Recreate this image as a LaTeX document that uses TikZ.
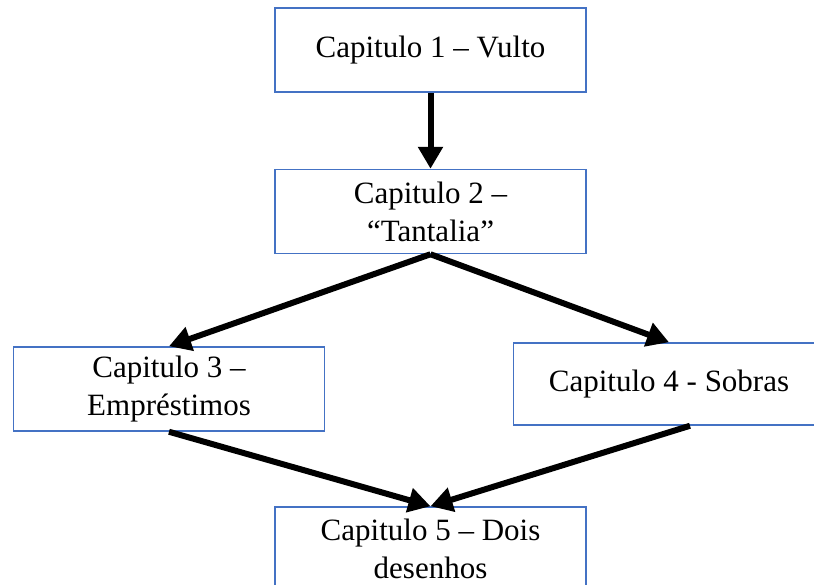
\documentclass[tikz,border=0pt]{standalone}
\usepackage{fontspec}
\setmainfont{Liberation Serif}
\usetikzlibrary{arrows.meta,positioning}
\definecolor{boxblue}{RGB}{68,114,196}
\tikzset{
    %Define standard arrow tip
    >={Triangle[width=24pt,length=22pt]},
    % Define arrow style
    pil/.style={
           ->,
           line width=6pt}
}

\begin{document}
\begin{tikzpicture}[x=1pt, y=-1pt, node distance=0pt]
	\tikzstyle{chapter} = [rectangle, draw=boxblue, line width=1.5pt, minimum width=311pt, minimum height=84pt, inner sep=0pt, align=center, font=\fontsize{31}{38}\selectfont]

	\path[use as bounding box, clip] (0,0) rectangle (814,584);

	% Capitulo 1 and 2
	\node[chapter](cap1) at (430.5,50){Capitulo 1 – Vulto};
	\node[chapter, below=76pt of cap1](cap2){Capitulo 2 –\\“Tantalia”};

	% Capitulo 3 and 4
	\node[chapter, below=92pt of cap2.south, anchor=north, xshift=-261.5pt](cap3){Capitulo 3 –\\Empréstimos};
	\node[chapter, minimum height=82pt, below=88pt of cap2.south, anchor=north, xshift=238.5pt](cap4){Capitulo 4 - Sobras};

	% Capitulo 5
	\node[chapter, below=252pt of cap2.south, anchor=north](cap5){Capitulo 5 – Dois\\desenhos};

	\path[pil] (cap1.south) edge (cap2.north)
	           (cap2.south) edge (cap3.north)
	           (cap2.south) edge (cap4.north)
	           (cap3.south) edge (cap5.north)
	           ([xshift=21pt]cap4.south) edge (cap5.north);

\end{tikzpicture}
\end{document}
